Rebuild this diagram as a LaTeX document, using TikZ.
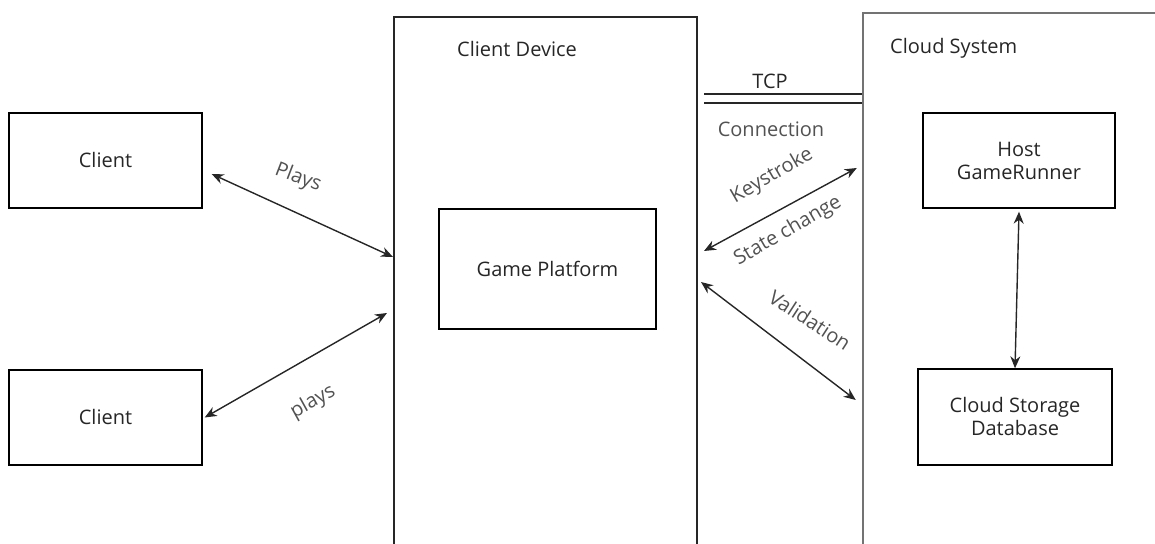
\documentclass[tikz,border=0pt]{standalone}
\usepackage{fontspec}
\setmainfont{Open Sans}
\usetikzlibrary{arrows.meta, positioning}

\begin{document}
\begin{tikzpicture}[
    x=1pt, y=1pt,
    font=\fontsize{20}{23}\selectfont,
    box/.style={draw, line width=1.4pt, align=center, inner sep=0pt,
                text=black!85},
    client/.style={box, minimum width=193pt, minimum height=95pt},
    frame/.style={draw, line width=2pt, inner sep=0pt},
    link/.style={{Stealth[length=12pt,width=10pt]}-{Stealth[length=12pt,width=10pt]},
                 line width=1.4pt, black!85},
    tag/.style={text=black!68, inner sep=0pt},
]
\path[use as bounding box, clip] (0,0) rectangle (1155,543);

% --- the two clients on the left -----------------------------------------------
\node[client] (client1) at (105.5,382.5) {Client};
\node[client] (client2) at (105.5,125.5) {Client};

% --- the device in the middle, cut off at the bottom -----------------------------
\node[frame, black!85, minimum width=303pt, minimum height=546pt] (device) at (545.5,253) {};
\node[tag, text=black!85, anchor=west] (devname) at (457,494) {Client Device};
\node[box, minimum width=217pt, minimum height=120pt] (platform) at (547.5,274) {Game Platform};

% --- the cloud on the right, cut off at the right and bottom ----------------------
\node[frame, black!55, line width=2.5pt, minimum width=317pt, minimum height=550pt] (cloud) at (1021.5,255) {};
\node[tag, text=black!85, anchor=west] (cloudname) at (890,495) {Cloud System};
\node[box, minimum width=192pt, minimum height=95pt] (host) at (1019,382.5) {Host\\GameRunner};
\node[box, minimum width=194pt, minimum height=96pt] (storage) at (1015,126) {Cloud Storage\\Database};
\draw[link] ([yshift=-3pt]host.south) -- (storage.north);

% --- clients play on the device ------------------------------------------------
\draw[link] ([shift={(9pt,-13.5pt)}]client1.east) -- ([yshift=33pt]device.west);
\node[tag, rotate=-21] (plays1) at (298,365) {Plays};
\draw[link] ([xshift=2pt]client2.east) -- ([shift={(-6pt,-23pt)}]device.west);
\node[tag, rotate=29] (plays2) at (313,141) {plays};

% --- TCP connection between device and cloud ------------------------------------
\coordinate (tcp) at (780,444.5);
\draw[double, double distance=7.7pt, line width=1.4pt, black!85]
    ([xshift=6pt]device.east |- tcp) -- (cloud.west |- tcp);
\node[tag, text=black!85] (tcpname) at (770,462) {TCP};
\node[tag] (connname) at (771,414) {Connection};

% --- messages between device and cloud -------------------------------------------
\draw[link] ([shift={(6pt,39pt)}]device.east) -- ([shift={(-5pt,120pt)}]cloud.west);
\node[tag, rotate=30] (keys) at (772,367) {Keystroke};
\node[tag, rotate=30] (state) at (788,312) {State change};
\draw[link] ([shift={(3pt,8pt)}]device.east) -- ([shift={(-6pt,-112pt)}]cloud.west);
\node[tag, rotate=-33] (valid) at (810,223) {Validation};

\end{tikzpicture}
\end{document}
